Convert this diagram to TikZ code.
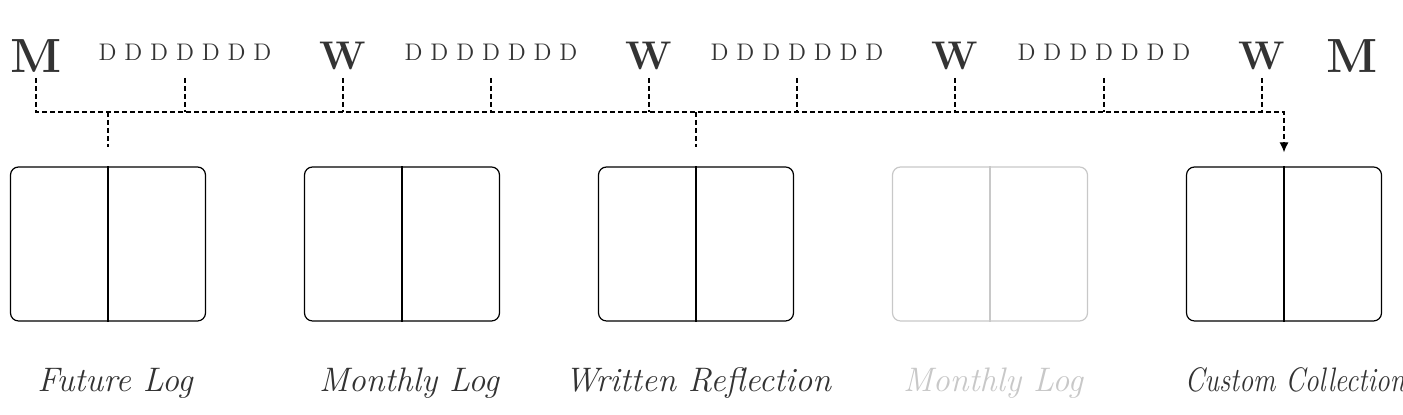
\documentclass[tikz,border=0pt]{standalone}
\usetikzlibrary{arrows.meta, positioning, calc}
\definecolor{bjink}{HTML}{333333}
\definecolor{bjfaint}{HTML}{C8C8C8}
\tikzset{
  spread/.style={rectangle, rounded corners=4pt, draw=black, line width=0.6pt,
              minimum width=97.5pt, minimum height=77pt, inner sep=0pt},
  spreadfaint/.style={spread, draw=bjfaint},
  monthmk/.style={font=\fontsize{24}{24}\selectfont\bfseries, text=bjink, anchor=base, inner sep=0pt},
  weekmk/.style={font=\fontsize{20}{20}\selectfont\bfseries, text=bjink, anchor=base, inner sep=0pt},
  daymk/.style={font=\fontsize{12}{12}\selectfont, text=bjink, anchor=base, inner sep=0pt},
  lbl/.style={font=\fontsize{17}{17}\selectfont\itshape, text=bjink, anchor=base, inner sep=0pt},
  link/.style={draw=black, line width=0.6pt, dash pattern=on 2.5pt off 1.5pt},
  linkend/.style={link, -{Latex[length=5pt, width=4.5pt]}},
}

\begin{document}
\begin{tikzpicture}[x=0.5pt, y=0.5pt]
      \useasboundingbox (0,0) rectangle (1403,415);
      \coordinate (top) at (0,337);
      \coordinate (bus) at (0,303);
      % month / week / day markers
      \node[monthmk] (m1) at (36,342) {M};
      \node[daymk] (dd1) at (185,354) {D D D D D D D};
      \node[weekmk] (wk1) at (343,345) {W};
      \node[daymk] (dd2) at (491,354) {D D D D D D D};
      \node[weekmk] (wk2) at (649,345) {W};
      \node[daymk] (dd3) at (797,354) {D D D D D D D};
      \node[weekmk] (wk3) at (955,345) {W};
      \node[daymk] (dd4) at (1104,354) {D D D D D D D};
      \node[weekmk] (wk4) at (1262,345) {W};
      \node[monthmk] (m2) at (1352,342) {M};
      % spreads
      \node[spread] (sp1) at (108,171) {};
      \node[spread] (sp2) at (402,171) {};
      \node[spread] (sp3) at (696,171) {};
      \node[spreadfaint] (sp4) at (990,171) {};
      \node[spread] (sp5) at (1284,171) {};
      \draw[line width=0.6pt] (sp1.north) -- (sp1.south);
      \draw[line width=0.6pt] (sp2.north) -- (sp2.south);
      \draw[line width=0.6pt] (sp3.north) -- (sp3.south);
      \draw[line width=0.6pt, bjfaint] (sp4.north) -- (sp4.south);
      \draw[line width=0.6pt] (sp5.north) -- (sp5.south);
      % labels
      \node[lbl] (lb1) at (115,23) {Future Log};
      \node[lbl] (lb2) at (409,23) {Monthly Log};
      \node[lbl] (lb3) at (698,23) {Written Reflection};
      \node[lbl, text=bjfaint] (lb4) at (993,23) {Monthly Log};
      \node[lbl] (lb5) at (1295,23) {\scalebox{0.82}[1]{Custom Collection}};
      % dashed timeline
      \draw[linkend] (m1 |- top) |- (sp5 |- bus) -- ($(sp5.north)+(0,14)$);
      \draw[link] (dd1 |- top) -- (dd1 |- bus);
      \draw[link] (wk1 |- top) -- (wk1 |- bus);
      \draw[link] (dd2 |- top) -- (dd2 |- bus);
      \draw[link] (wk2 |- top) -- (wk2 |- bus);
      \draw[link] (dd3 |- top) -- (dd3 |- bus);
      \draw[link] (wk3 |- top) -- (wk3 |- bus);
      \draw[link] (dd4 |- top) -- (dd4 |- bus);
      \draw[link] (wk4 |- top) -- (wk4 |- bus);
      \draw[link] (sp1 |- bus) -- ($(sp1.north)+(0,19)$);
      \draw[link] (sp3 |- bus) -- ($(sp3.north)+(0,19)$);
    \end{tikzpicture}
\end{document}
